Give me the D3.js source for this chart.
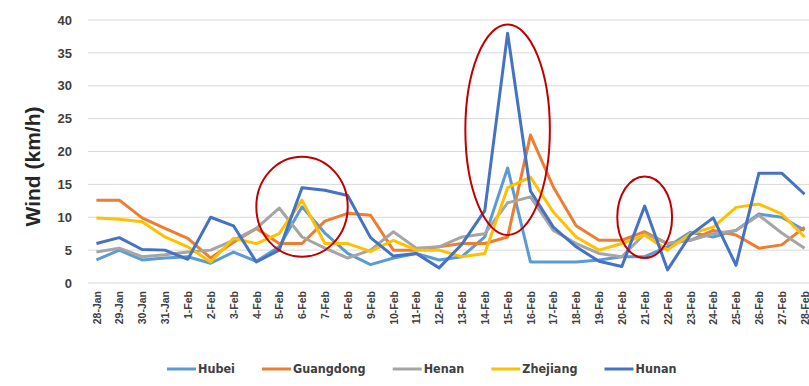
<!DOCTYPE html>
<html>
<head>
<meta charset="utf-8">
<script src="https://cdn.jsdelivr.net/npm/d3@7"></script>
<style>
  body { margin: 0; background: #fff; }
  text { font-family: "Liberation Sans", Arial, sans-serif; }
</style>
</head>
<body>
<div id="wrapper"></div>
<script>
const dates = ["28-Jan", "29-Jan", "30-Jan", "31-Jan", "1-Feb", "2-Feb", "3-Feb", "4-Feb", "5-Feb", "6-Feb",
  "7-Feb", "8-Feb", "9-Feb", "10-Feb", "11-Feb", "12-Feb", "13-Feb", "14-Feb", "15-Feb", "16-Feb",
  "17-Feb", "18-Feb", "19-Feb", "20-Feb", "21-Feb", "22-Feb", "23-Feb", "24-Feb", "25-Feb", "26-Feb",
  "27-Feb", "28-Feb"]

const hubei     = [3.5, 5, 3.5, 3.8, 4, 3, 4.7, 3.3, 5.5, 11.6, 7.6, 4.5, 2.8, 3.8, 4.5, 3.5, 4, 7, 17.5, 3.2,
  3.2, 3.2, 3.5, 4, 4, 5.5, 7.7, 7, 8, 10.5, 10, 8]
const guangdong = [12.6, 12.6, 9.9, 8.3, 6.8, 3.8, 6.2, 8.3, 6, 6, 9.4, 10.6, 10.3, 5, 5, 5.5, 6, 6, 7, 22.5,
  14.6, 8.7, 6.5, 6.5, 7.8, 6, 6.5, 8, 7.3, 5.3, 5.8, 8.5]
const henan     = [4.7, 5.3, 4, 4.3, 4.7, 5, 6.5, 8.3, 11.4, 7, 5.3, 3.8, 5, 7.8, 5.3, 5.5, 7, 7.5, 12.2, 13.1,
  8, 6, 4.5, 4, 7.5, 6, 6.5, 7.5, 8, 10.3, 7.6, 5.3]
const zhejiang  = [9.9, 9.7, 9.3, 7, 5.5, 3.2, 6.8, 6, 7.5, 12.6, 6, 6, 4.8, 6.5, 5, 5, 4, 4.5, 14.5, 16.1,
  10.8, 7, 5, 6, 7.3, 5, 7.5, 8.5, 11.5, 12, 10.5, 7]
const hunan     = [6, 6.9, 5.1, 5, 3.6, 10, 8.7, 3.2, 5, 14.5, 14.1, 13.3, 6.9, 4.1, 4.5, 2.3, 5.9, 11, 38, 14,
  8.5, 5.5, 3.3, 2.5, 11.7, 2, 7.3, 9.9, 2.7, 16.7, 16.7, 13.5]

const seriesNames = ["Hubei", "Guangdong", "Henan", "Zhejiang", "Hunan"]
const seriesValues = [hubei, guangdong, henan, zhejiang, hunan]
const seriesColors = ["#5B9BD5", "#ED7D31", "#A5A5A5", "#FFC000", "#4472C4"]

const yTicks = [0, 5, 10, 15, 20, 25, 30, 35, 40]

// red ellipses marking the peaks: centre date, centre value, half width (in days), half height (in km/h)
const highlightDates = ["6-Feb", "15-Feb", "21-Feb"]
const highlightValues = [11.6, 23.3, 10]
const highlightHalfDays = [2.0, 1.85, 1.2]
const highlightHalfValues = [7.6, 16, 6.2]

function drawChart() {
  const dimensions = {
    width: 809,
    height: 386,
    margin: {top: 20, right: -7, bottom: 103, left: 85},
  }
  dimensions.boundedWidth = dimensions.width - dimensions.margin.left - dimensions.margin.right
  dimensions.boundedHeight = dimensions.height - dimensions.margin.top - dimensions.margin.bottom

  const svg = d3.select("#wrapper")
    .append("svg")
    .attr("width", dimensions.width)
    .attr("height", dimensions.height)

  const bounds = svg.append("g")
    .attr("transform", `translate(${dimensions.margin.left}, ${dimensions.margin.top})`)

  const xScale = d3.scalePoint()
    .domain(dates)
    .range([0, dimensions.boundedWidth])
    .padding(0.5)
  const yScale = d3.scaleLinear()
    .domain([0, 40])
    .range([dimensions.boundedHeight, 0])

  // gridlines
  bounds.append("g")
    .selectAll("line")
    .data(yTicks)
    .join("line")
    .attr("x1", 3)
    .attr("x2", dimensions.boundedWidth)
    .attr("y1", d => yScale(d))
    .attr("y2", d => yScale(d))
    .attr("stroke", "#d9d9d9")
    .attr("stroke-width", 1)

  // y axis
  const yAxis = bounds.append("g")
    .attr("transform", "translate(-13, 0)")
    .call(d3.axisLeft(yScale).tickValues(yTicks).tickSize(0).tickPadding(0))
  yAxis.select(".domain").remove()
  yAxis.selectAll("text")
    .attr("fill", "#404040")
    .style("font-size", "13px")
    .style("font-weight", "bold")

  svg.append("text")
    .attr("transform", `translate(40, ${dimensions.margin.top + yScale(20) + 15}) rotate(-90)`)
    .attr("text-anchor", "middle")
    .attr("fill", "#262626")
    .style("font-size", "21px")
    .style("font-weight", "bold")
    .text("Wind (km/h)")

  // x axis
  const xAxis = bounds.append("g")
    .attr("transform", `translate(0, ${dimensions.boundedHeight + 8})`)
    .call(d3.axisBottom(xScale).tickSize(0).tickPadding(0))
  xAxis.select(".domain").remove()
  xAxis.selectAll("text")
    .attr("transform", "rotate(-90)")
    .attr("text-anchor", "end")
    .attr("x", 0)
    .attr("y", 0)
    .attr("dx", 0)
    .attr("dy", "0.35em")
    .attr("fill", "#404040")
    .style("font-size", "10.5px")
    .style("font-weight", "bold")

  // lines
  const lineGenerator = d3.line()
    .x((d, i) => xScale(dates[i]))
    .y(d => yScale(d))
  bounds.append("g")
    .selectAll("path")
    .data(seriesValues)
    .join("path")
    .attr("d", d => lineGenerator(d))
    .attr("fill", "none")
    .attr("stroke", (d, i) => seriesColors[i])
    .attr("stroke-width", 3)
    .attr("stroke-linejoin", "round")

  // highlight ellipses
  const step = xScale.step()
  bounds.append("g")
    .selectAll("ellipse")
    .data(highlightDates)
    .join("ellipse")
    .attr("cx", d => xScale(d))
    .attr("cy", (d, i) => yScale(highlightValues[i]))
    .attr("rx", (d, i) => highlightHalfDays[i] * step)
    .attr("ry", (d, i) => yScale(0) - yScale(highlightHalfValues[i]))
    .attr("fill", "none")
    .attr("stroke", "#C00000")
    .attr("stroke-width", 2)

  // legend
  const legend = svg.append("g")
    .attr("transform", "translate(0, 369)")
  let cursor = 167
  seriesNames.forEach((name, i) => {
    const item = legend.append("g").attr("transform", `translate(${cursor}, 0)`)
    item.append("line")
      .attr("x1", 0)
      .attr("x2", 29)
      .attr("stroke", seriesColors[i])
      .attr("stroke-width", 3)
    const label = item.append("text")
      .attr("x", 31)
      .attr("dy", "0.35em")
      .attr("fill", "#404040")
      .style("font-family", "'Liberation Sans Narrow', 'DejaVu Sans Condensed', sans-serif")
      .style("font-size", "12.5px")
      .style("font-weight", "bold")
      .text(name)
    cursor += 31 + label.node().getComputedTextLength() + 27
  })
}

drawChart()
</script>
</body>
</html>
